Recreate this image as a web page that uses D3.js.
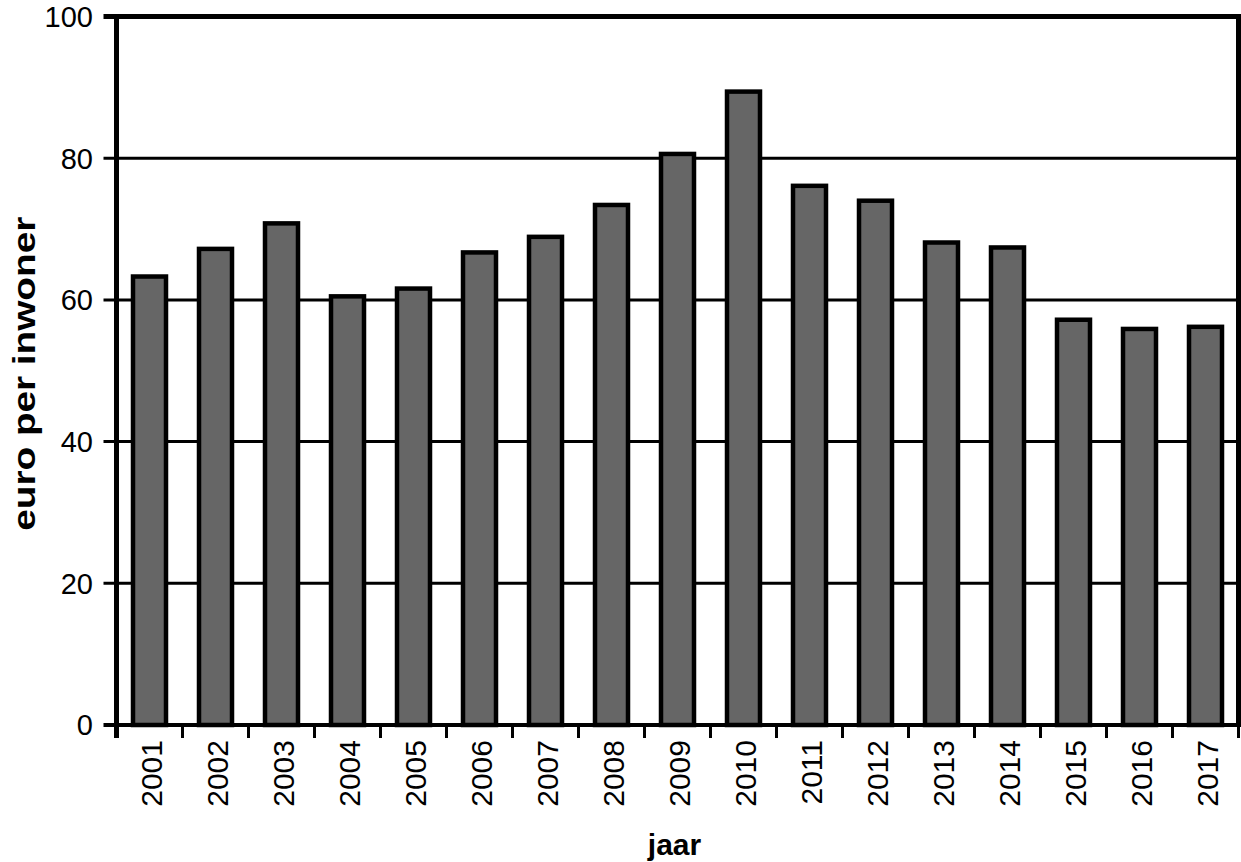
<!DOCTYPE html>
<html>
<head>
<meta charset="utf-8">
<script src="https://cdn.jsdelivr.net/npm/d3@7"></script>
<style>
  html, body { margin: 0; padding: 0; background: #fff; }
  text { font-family: "Liberation Sans", Arial, sans-serif; fill: #000; }
</style>
</head>
<body>
<svg id="chart" width="1241" height="862"></svg>
<script>
// Data: euro per inwoner, per jaar
const years = ['2001', '2002', '2003', '2004', '2005', '2006', '2007', '2008', '2009',
               '2010', '2011', '2012', '2013', '2014', '2015', '2016', '2017'];
const values = [63.3, 67.2, 70.8, 60.5, 61.6, 66.7, 68.9, 73.4, 80.6,
                89.4, 76.1, 74.0, 68.1, 67.4, 57.2, 55.9, 56.2];
const yTicks = [0, 20, 40, 60, 80, 100];

const svg = d3.select('#chart');

// Plot area
const plotLeft = 116.5, plotRight = 1238.5, plotTop = 16.5, plotBottom = 725;

const x = d3.scaleBand()
    .domain(years)
    .range([plotLeft, plotRight])
    .paddingInner(0.5)
    .paddingOuter(0.25);

const y = d3.scaleLinear()
    .domain([0, 100])
    .range([plotBottom, plotTop]);

// Gridlines + y ticks
svg.append('g')
    .selectAll('line')
    .data(yTicks.filter(d => d > 0 && d < 100))
    .join('line')
    .attr('x1', plotLeft - 13)
    .attr('x2', plotRight)
    .attr('y1', d => y(d))
    .attr('y2', d => y(d))
    .attr('stroke', '#000')
    .attr('stroke-width', 3);

// Bars
svg.append('g')
    .selectAll('rect')
    .data(values)
    .join('rect')
    .attr('x', (d, i) => x(years[i]))
    .attr('y', d => y(d))
    .attr('width', x.bandwidth())
    .attr('height', d => y(0) - y(d))
    .attr('fill', '#666666')
    .attr('stroke', '#000')
    .attr('stroke-width', 4.5);

// Frame: top and right border, left axis, bottom axis
svg.append('line')
    .attr('x1', plotLeft - 13).attr('x2', plotRight + 2.5)
    .attr('y1', y(100)).attr('y2', y(100))
    .attr('stroke', '#000').attr('stroke-width', 5);
svg.append('line')
    .attr('x1', plotRight).attr('x2', plotRight)
    .attr('y1', y(100)).attr('y2', plotBottom)
    .attr('stroke', '#000').attr('stroke-width', 5);
svg.append('line')
    .attr('x1', plotLeft).attr('x2', plotLeft)
    .attr('y1', y(100) - 2.5).attr('y2', plotBottom + 13)
    .attr('stroke', '#000').attr('stroke-width', 5);
svg.append('line')
    .attr('x1', plotLeft - 13).attr('x2', plotRight + 2.5)
    .attr('y1', plotBottom).attr('y2', plotBottom)
    .attr('stroke', '#000').attr('stroke-width', 4);

// x ticks at band boundaries
const step = x.step();
const xTickPos = d3.range(1, years.length + 1).map(i => plotLeft + i * step);
svg.append('g')
    .selectAll('line')
    .data(xTickPos)
    .join('line')
    .attr('x1', d => d)
    .attr('x2', d => d)
    .attr('y1', plotBottom)
    .attr('y2', plotBottom + 13)
    .attr('stroke', '#000')
    .attr('stroke-width', 3);

// y tick labels
svg.append('g')
    .selectAll('text')
    .data(yTicks)
    .join('text')
    .attr('x', 93)
    .attr('y', d => y(d))
    .attr('dy', '0.36em')
    .attr('text-anchor', 'end')
    .attr('font-size', 29)
    .text(d => d);

// x tick labels (rotated)
svg.append('g')
    .selectAll('text')
    .data(years)
    .join('text')
    .attr('transform', d => `translate(${x(d) + x.bandwidth() / 2 + 2},740) rotate(-90)`)
    .attr('dy', '0.36em')
    .attr('text-anchor', 'end')
    .attr('font-size', 30)
    .text(d => d);

// Axis titles
svg.append('text')
    .attr('x', (plotLeft + plotRight) / 2 - 3)
    .attr('y', 855)
    .attr('text-anchor', 'middle')
    .attr('font-size', 30)
    .attr('font-weight', 'bold')
    .text('jaar');

svg.append('text')
    .attr('transform', `translate(35,${(plotTop + plotBottom) / 2 + 3}) rotate(-90)`)
    .attr('text-anchor', 'middle')
    .attr('font-size', 31)
    .attr('font-weight', 'bold')
    .attr('textLength', 314)
    .attr('lengthAdjust', 'spacingAndGlyphs')
    .text('euro per inwoner');
</script>
</body>
</html>
